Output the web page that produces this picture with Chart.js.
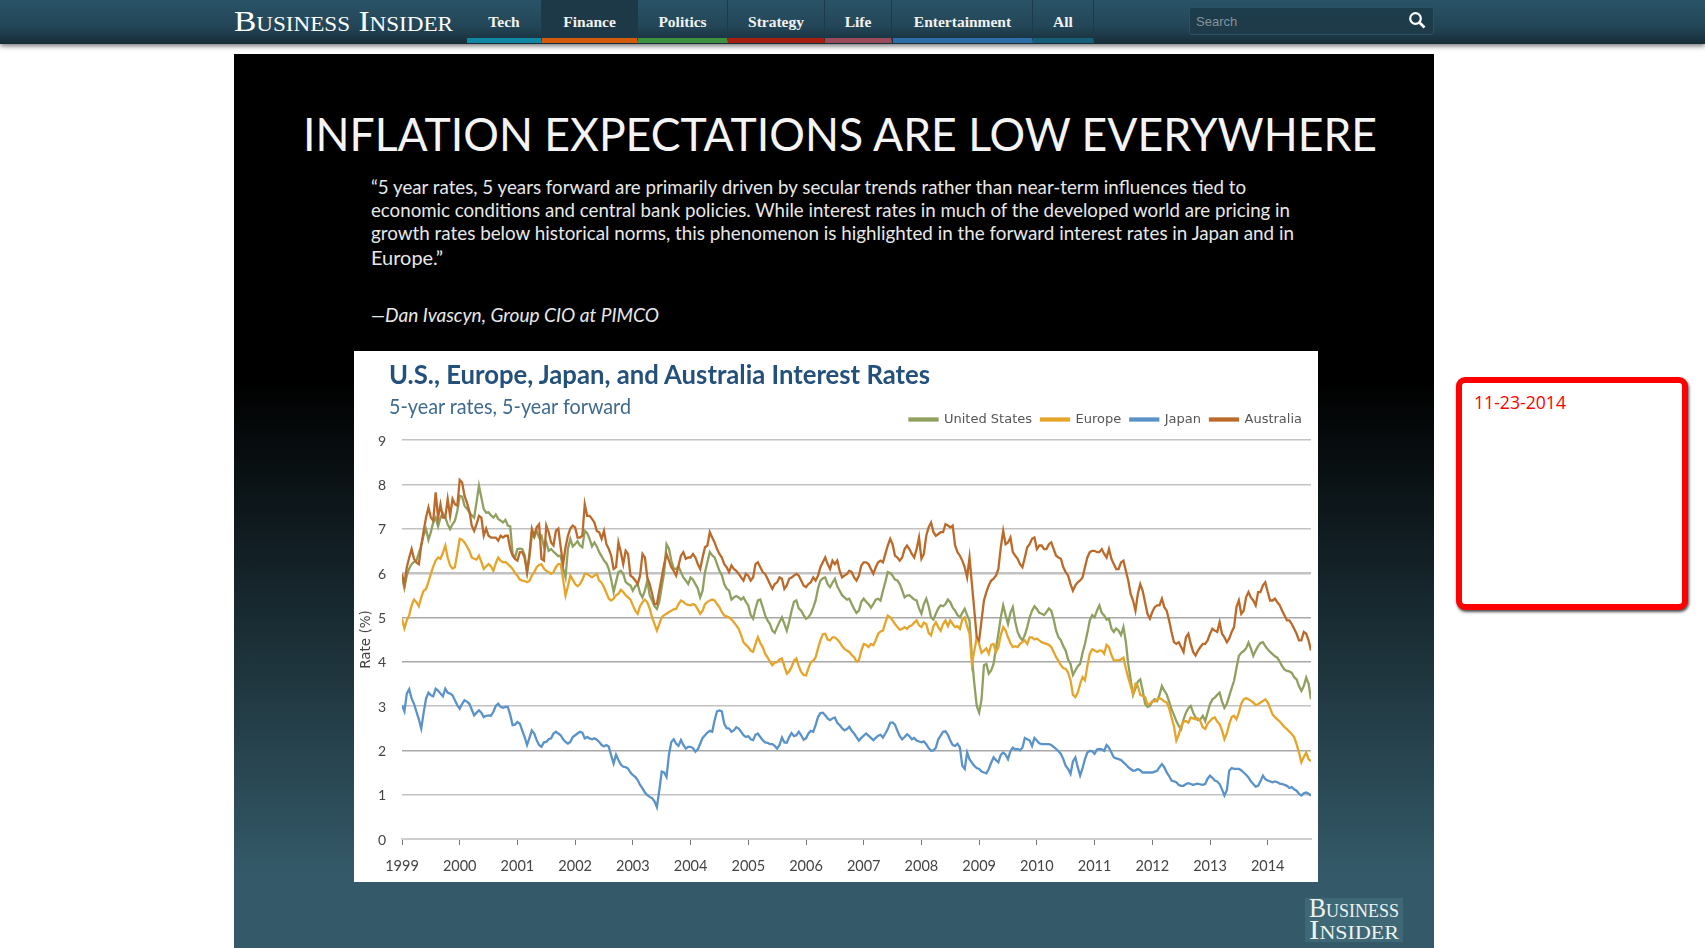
<!DOCTYPE html>
<html lang="en">
<head>
<meta charset="UTF-8">
<title>Inflation expectations are low everywhere</title>
<script src="https://cdn.jsdelivr.net/npm/chart.js"></script>
<style>
    html, body { margin: 0; padding: 0; background: #fff; }
    body { width: 1705px; height: 948px; overflow: hidden; position: relative; font-family: Lato, sans-serif; }
    .abs { position: absolute; white-space: nowrap; transform-origin: left top; }
    #nav { position: absolute; left: 0; top: 0; width: 1705px; height: 44px; background: linear-gradient(#2a5367, #234657 60%, #172d38); box-shadow: 0 2px 5px rgba(0,0,0,.55); }
    .tab { position: absolute; top: 0; height: 38px; line-height: 43px; border-bottom: 5px solid; text-align: center; color: #f2f2f2; font: bold 15.5px/43px "Liberation Serif", serif; border-right: 1px solid #1c3a49; box-sizing: content-box; }
    #search { position: absolute; left: 1189px; top: 7px; width: 245px; height: 28px; background: linear-gradient(#1c3d4c, #1f3a48); border-radius: 3px; border: 1px solid #2a5266; box-sizing: border-box; color: #84949b; font: 13px/28px "Liberation Sans", sans-serif; padding-left: 6px; }
    #slide { position: absolute; left: 234px; top: 54px; width: 1200px; height: 894px; background: linear-gradient(#000 0, #000 36.5%, #345a69 92%); }
    .line { color: #e8e8e8; font-size: 19px; }
    #card { position: absolute; left: 354px; top: 351px; width: 964px; height: 531px; background: #fff; }
    #chart { position: absolute; left: 354px; top: 351px; filter: blur(0.35px); }
    #redbox { position: absolute; left: 1456px; top: 377px; width: 232px; height: 233px; box-sizing: border-box; border: 6px solid #f00; border-radius: 9px; box-shadow: 1px 2px 3px rgba(0,0,0,.7); background: #fff; }
    #bilogo { position: absolute; left: 1305px; top: 898px; width: 98px; height: 44px; background: #3f6876; }
</style>
</head>
<body>
<div id="nav">
    <div class="abs" data-w="219" style="left:234px;top:5px;color:#fff;font:29px 'Liberation Serif',serif;font-variant:small-caps;">Business Insider</div>
    <div class="tab" style="left:467px;width:74px;border-bottom-color:#0f87a5;">Tech</div>
    <div class="tab" style="left:542px;width:95px;border-bottom-color:#d25a0a;background:#1d3846;">Finance</div>
    <div class="tab" style="left:638px;width:89px;border-bottom-color:#3d9140;">Politics</div>
    <div class="tab" style="left:728px;width:96px;border-bottom-color:#a51e10;">Strategy</div>
    <div class="tab" style="left:825px;width:66px;border-bottom-color:#9a4a5a;">Life</div>
    <div class="tab" style="left:893px;width:139px;border-bottom-color:#2d6ea8;">Entertainment</div>
    <div class="tab" style="left:1033px;width:60px;border-bottom-color:#155f78;">All</div>
    <div id="search">Search</div>
    <svg class="abs" style="left:1408px;top:11px" width="18" height="18" viewBox="0 0 18 18"><circle cx="7.5" cy="7.5" r="5.3" fill="none" stroke="#fff" stroke-width="2.2"/><line x1="11.5" y1="11.5" x2="16.5" y2="16.5" stroke="#fff" stroke-width="2.6"/></svg>
</div>

<div id="slide"></div>
<div class="abs" data-w="1074" style="left:303px;top:106px;color:#f4f4f4;font-size:46px;font-weight:400;">INFLATION EXPECTATIONS ARE LOW EVERYWHERE</div>
<div class="abs line" data-w="875" style="left:371px;top:175px;">“5 year rates, 5 years forward are primarily driven by secular trends rather than near-term influences tied to</div>
<div class="abs line" data-w="919" style="left:371px;top:198px;">economic conditions and central bank policies. While interest rates in much of the developed world are pricing in</div>
<div class="abs line" data-w="923" style="left:371px;top:221px;">growth rates below historical norms, this phenomenon is highlighted in the forward interest rates in Japan and in</div>
<div class="abs line" data-w="72" style="left:371px;top:246px;">Europe.”</div>
<div class="abs line" data-w="288" style="left:371px;top:303px;font-style:italic;">—Dan Ivascyn, Group CIO at PIMCO</div>

<div id="card"></div>
<canvas id="chart" width="964" height="531"></canvas>
<div class="abs" data-w="541" style="left:389px;top:357px;color:#24507c;font-size:27px;font-weight:bold;">U.S., Europe, Japan, and Australia Interest Rates</div>
<div class="abs" data-w="242" style="left:389px;top:393px;color:#3f6a8e;font-size:21px;">5-year rates, 5-year forward</div>

<div id="bilogo"></div>
<div class="abs" data-w="90" style="left:1309px;top:893px;color:#eef3f1;font:27px 'Liberation Serif',serif;font-variant:small-caps;">Business</div>
<div class="abs" data-w="90" style="left:1309px;top:915px;color:#eef3f1;font:27px 'Liberation Serif',serif;font-variant:small-caps;">Insider</div>

<div id="redbox"></div>
<div class="abs" data-w="92" style="left:1474px;top:390px;color:#f00;font:18px 'Open Sans',sans-serif;">11-23-2014</div>

<script>
    const years = [1999, 2000, 2001, 2002, 2003, 2004, 2005, 2006, 2007, 2008, 2009, 2010, 2011, 2012, 2013, 2014];
    const seriesNames = ['United States', 'Europe', 'Japan', 'Australia'];

    // reads off the picture: start of each month, Jan 1999 to Oct 2014
    const unitedStates = [
        5.90,5.95,6.20,6.28,6.62,6.99,6.92,7.25,7.25,7.25,
        6.99,7.18,7.74,7.52,7.37,7.25,7.97,7.44,7.37,7.25,
        7.22,7.14,7.07,6.43,6.54,6.54,6.02,6.88,6.95,6.84,
        6.69,6.54,6.43,6.39,5.90,6.77,6.65,6.62,6.95,6.77,
        6.69,6.47,6.28,6.09,5.57,6.02,5.98,5.75,5.60,5.75,
        5.45,5.83,5.38,5.19,5.68,6.65,6.28,6.09,6.02,5.83,
        5.90,5.75,5.45,6.02,6.47,6.35,6.05,5.75,5.60,5.45,
        5.45,5.45,5.27,4.97,5.38,5.23,4.93,4.70,4.78,5.00,
        4.70,5.15,5.38,5.15,4.97,5.08,5.38,5.83,5.90,5.68,
        5.87,5.60,5.45,5.42,5.19,5.15,5.42,5.30,5.30,5.42,
        5.60,6.02,5.94,5.83,5.60,5.49,5.45,5.38,5.08,5.42,
        5.00,5.08,5.27,5.30,5.34,5.15,5.00,5.19,4.93,3.50,
        2.85,3.92,3.73,3.95,4.63,5.27,4.85,5.23,4.67,4.48,
        4.78,5.15,5.19,5.08,5.12,5.15,4.70,4.48,4.25,3.95,
        3.80,3.95,4.40,4.93,5.00,5.27,5.04,4.97,4.67,4.70,
        4.78,3.95,3.25,3.55,3.35,2.98,3.10,3.11,3.45,3.26,
        2.93,2.66,2.48,2.85,3.00,2.74,2.70,2.66,3.04,3.19,
        3.30,2.96,3.23,3.57,4.13,4.24,4.43,4.13,4.35,4.44,
        4.28,4.17,4.09,3.90,3.79,3.75,3.60,3.34,3.64,3.15
    ];
    const europe = [
        4.97,4.93,5.27,5.34,5.45,5.64,5.98,6.28,6.32,6.62,
        6.17,6.13,6.77,6.69,6.50,6.32,6.39,6.09,6.20,6.05,
        6.35,6.24,6.20,6.09,5.94,5.83,5.79,5.94,6.13,6.20,
        6.05,5.98,6.13,6.20,5.49,5.94,5.75,5.75,5.98,5.94,
        5.94,5.83,5.68,5.42,5.42,5.53,5.57,5.45,5.27,5.08,
        5.34,5.34,5.00,4.70,5.00,5.08,5.15,5.19,5.38,5.30,
        5.27,5.27,5.08,5.30,5.38,5.38,5.23,5.04,5.00,4.89,
        4.74,4.44,4.33,4.22,4.55,4.33,4.10,3.92,3.99,4.07,
        3.73,3.88,4.07,3.77,3.69,3.99,4.10,4.48,4.63,4.48,
        4.55,4.44,4.29,4.22,4.10,4.03,4.40,4.33,4.37,4.63,
        4.70,5.04,4.93,4.78,4.74,4.74,4.82,4.93,4.78,4.85,
        4.59,4.89,4.70,4.93,4.93,4.78,4.74,5.00,4.63,4.25,
        4.40,4.25,4.18,4.40,4.33,4.78,4.55,4.33,4.33,4.44,
        4.40,4.55,4.52,4.44,4.40,4.33,4.10,3.92,3.84,3.58,
        3.20,3.50,3.58,4.18,4.25,4.25,4.18,4.33,4.03,4.03,
        4.09,3.64,3.27,3.45,3.23,3.04,3.11,3.15,3.15,3.08,
        2.74,2.22,2.55,2.66,2.74,2.70,2.66,2.48,2.66,2.74,
        2.59,2.25,2.59,2.78,2.85,3.15,3.15,3.08,3.04,3.11,
        3.08,2.81,2.70,2.59,2.48,2.37,2.14,1.73,1.95,1.76
    ];
    const japan = [
        3.02,3.28,3.17,2.87,2.49,3.17,3.24,3.39,3.28,3.39,
        3.28,3.13,2.94,3.13,3.05,2.79,2.90,2.75,2.79,2.87,
        3.05,2.96,2.98,2.57,2.64,2.45,2.12,2.45,2.23,2.08,
        2.19,2.27,2.42,2.34,2.19,2.19,2.34,2.42,2.27,2.27,
        2.27,2.19,2.09,2.08,1.70,1.78,1.63,1.59,1.44,1.33,
        1.14,0.99,0.92,0.72,1.52,1.40,2.19,2.15,2.23,2.04,
        2.08,1.97,2.15,2.34,2.44,2.68,2.90,2.60,2.49,2.45,
        2.49,2.34,2.32,2.23,2.38,2.23,2.17,2.14,2.04,2.29,
        2.17,2.39,2.34,2.34,2.27,2.44,2.57,2.84,2.79,2.68,
        2.74,2.57,2.45,2.53,2.38,2.22,2.33,2.33,2.23,2.33,
        2.29,2.48,2.63,2.44,2.25,2.36,2.25,2.22,2.18,2.14,
        1.99,2.06,2.33,2.43,2.22,2.10,2.06,1.58,1.80,1.65,
        1.58,1.50,1.58,1.84,1.73,1.95,1.80,2.06,2.03,2.06,
        2.25,2.10,2.22,2.14,2.14,2.12,2.03,1.92,1.65,1.47,
        1.84,1.43,1.80,1.99,1.92,2.03,1.99,2.06,1.84,1.80,
        1.73,1.62,1.54,1.58,1.50,1.50,1.50,1.54,1.69,1.50,
        1.32,1.28,1.20,1.24,1.24,1.24,1.23,1.24,1.43,1.32,
        1.24,0.98,1.54,1.58,1.58,1.50,1.39,1.24,1.20,1.43,
        1.32,1.28,1.28,1.24,1.20,1.17,1.09,0.98,1.05,0.98
    ];
    const australia = [
        5.98,6.13,6.54,6.24,6.62,7.25,7.25,7.82,7.55,7.25,
        7.29,7.55,8.10,7.74,7.40,6.95,7.29,6.84,6.84,6.80,
        6.73,6.80,6.84,6.39,6.28,6.47,6.02,7.00,7.03,6.32,
        7.07,6.69,6.95,6.58,6.58,7.00,7.03,6.80,7.55,7.29,
        7.14,6.92,6.95,6.54,6.09,6.69,6.20,6.43,5.90,5.75,
        6.43,5.90,5.53,5.30,5.90,6.43,6.13,5.94,6.39,6.32,
        6.35,6.35,6.09,6.58,6.92,6.69,6.43,6.20,6.02,6.09,
        5.98,5.83,5.94,5.90,6.24,6.02,5.87,5.64,5.79,5.87,
        5.72,5.90,5.98,5.83,5.68,5.79,5.83,6.13,6.35,6.09,
        6.20,6.05,5.94,6.05,5.90,5.94,6.24,6.20,5.98,6.24,
        6.24,6.62,6.65,6.35,6.35,6.62,6.43,6.54,6.32,6.84,
        7.14,6.84,6.92,7.10,7.03,6.62,6.39,6.13,6.35,5.15,
        4.48,5.38,5.72,5.87,6.09,6.95,6.69,6.47,6.32,6.13,
        6.58,6.77,6.54,6.62,6.54,6.69,6.39,6.32,6.02,5.75,
        5.72,5.83,6.13,6.47,6.50,6.47,6.43,6.54,6.20,6.09,
        6.28,5.83,5.38,5.53,5.60,5.08,5.12,5.27,5.42,5.15,
        4.67,4.40,4.33,4.55,4.40,4.14,4.33,4.40,4.63,4.70,
        4.89,4.55,4.52,4.78,5.38,5.15,5.57,5.38,5.57,5.72,
        5.57,5.38,5.34,5.15,4.93,4.85,4.63,4.48,4.63,4.25
    ];

    // reads between those, half way through each month
    const unitedStatesMid = [
        5.66,6.10,6.25,6.45,6.85,6.75,7.15,7.05,7.35,7.10,
        7.10,7.40,7.72,7.45,7.30,7.60,7.70,7.36,7.30,7.32,
        7.18,7.20,7.05,6.35,6.55,6.40,6.35,6.80,6.80,6.60,
        6.50,6.48,6.38,6.10,6.55,6.60,6.72,6.58,6.90,6.60,
        6.60,6.38,6.22,5.85,5.80,6.05,5.80,5.72,5.70,5.55,
        5.60,5.50,5.25,5.35,6.00,6.55,6.10,6.15,5.90,5.75,
        5.85,5.65,5.60,6.25,6.40,6.20,5.95,5.65,5.40,5.48,
        5.40,5.35,5.05,5.20,5.40,5.05,4.85,4.65,4.90,4.85,
        4.90,5.35,5.20,5.05,5.00,5.22,5.65,5.88,5.75,5.78,
        5.70,5.50,5.40,5.30,5.10,5.35,5.35,5.22,5.40,5.38,
        5.80,6.00,5.85,5.75,5.45,5.50,5.40,5.20,5.30,5.25,
        4.95,5.20,5.25,5.40,5.22,5.05,5.10,5.05,4.10,3.00,
        3.15,3.95,3.80,4.30,5.00,5.05,5.10,4.90,4.55,4.60,
        5.00,5.25,5.10,5.05,5.20,4.95,4.55,4.35,4.05,3.70,
        3.90,4.20,4.65,5.05,5.15,5.10,4.95,4.75,4.75,4.60,
        4.45,3.60,3.40,3.60,3.05,3.00,3.15,3.25,3.35,3.10,
        2.80,2.55,2.70,2.95,2.85,2.68,2.78,2.85,3.15,3.25,
        3.10,3.05,3.40,3.85,4.20,4.30,4.30,4.25,4.42,4.35,
        4.22,4.12,4.00,3.82,3.78,3.65,3.45,3.45,3.50
    ];
    const europeMid = [
        4.75,5.05,5.40,5.25,5.60,5.80,6.15,6.35,6.45,6.35,
        6.10,6.45,6.75,6.60,6.35,6.30,6.25,6.15,6.15,6.22,
        6.28,6.25,6.15,6.00,5.85,5.82,5.82,6.02,6.18,6.10,
        6.02,6.02,6.20,5.85,5.70,5.85,5.70,5.85,5.98,5.90,
        5.98,5.78,5.55,5.38,5.50,5.62,5.50,5.40,5.15,5.25,
        5.40,5.20,4.85,4.85,5.05,5.12,5.18,5.30,5.35,5.28,
        5.30,5.18,5.15,5.35,5.40,5.30,5.12,5.02,4.95,4.82,
        4.60,4.38,4.25,4.40,4.42,4.18,4.00,3.98,4.05,3.90,
        3.78,4.02,3.90,3.70,3.85,4.02,4.30,4.62,4.50,4.55,
        4.50,4.35,4.25,4.15,4.00,4.25,4.38,4.40,4.48,4.68,
        4.88,5.00,4.85,4.72,4.78,4.80,4.88,4.82,4.88,4.65,
        4.80,4.78,4.85,4.80,4.85,4.80,4.95,4.80,3.95,4.55,
        4.20,4.30,4.38,4.22,4.60,4.70,4.42,4.35,4.40,4.48,
        4.55,4.50,4.48,4.42,4.38,4.22,4.02,3.85,3.75,3.25,
        3.30,3.65,3.90,4.28,4.22,4.25,4.38,4.15,4.03,4.05,
        3.85,3.45,3.50,3.25,3.20,3.05,3.10,3.18,3.10,2.95,
        2.55,2.35,2.65,2.62,2.72,2.72,2.52,2.60,2.72,2.65,
        2.45,2.38,2.75,2.70,3.05,3.18,3.12,3.02,3.08,3.15,
        2.95,2.75,2.65,2.52,2.42,2.30,1.95,1.85,1.80
    ];
    const japanMid = [
        2.88,3.38,3.05,2.70,2.85,3.30,3.22,3.35,3.22,3.30,
        3.24,3.02,3.05,3.10,2.92,2.85,2.85,2.78,2.78,3.00,
        2.98,2.98,2.80,2.58,2.60,2.30,2.28,2.38,2.12,2.18,
        2.25,2.38,2.38,2.25,2.15,2.30,2.38,2.40,2.30,2.25,
        2.24,2.12,2.12,1.88,1.90,1.68,1.62,1.50,1.40,1.22,
        1.05,0.95,0.85,1.10,1.50,1.90,2.25,2.10,2.12,2.08,
        2.05,2.02,2.28,2.40,2.42,2.88,2.88,2.50,2.42,2.52,
        2.42,2.30,2.25,2.35,2.30,2.18,2.14,2.10,2.12,2.18,
        2.30,2.32,2.42,2.24,2.38,2.42,2.75,2.85,2.72,2.72,
        2.62,2.50,2.48,2.44,2.30,2.28,2.38,2.28,2.28,2.35,
        2.38,2.62,2.58,2.32,2.30,2.32,2.28,2.20,2.20,2.05,
        2.00,2.25,2.42,2.35,2.12,2.15,1.65,1.95,1.72,1.60,
        1.52,1.48,1.72,1.78,1.90,1.90,1.98,2.02,2.00,2.28,
        2.22,2.28,2.16,2.14,2.14,2.08,1.98,1.80,1.58,1.75,
        1.62,1.60,1.95,1.98,2.02,2.02,2.12,1.95,1.82,1.78,
        1.68,1.58,1.55,1.55,1.50,1.50,1.52,1.62,1.62,1.42,
        1.30,1.22,1.20,1.26,1.22,1.25,1.22,1.36,1.38,1.30,
        1.12,1.10,1.60,1.58,1.55,1.45,1.30,1.18,1.30,1.35,
        1.30,1.30,1.25,1.22,1.15,1.12,1.02,1.03,1.02
    ];
    const australiaMid = [
        5.75,6.35,6.32,6.20,6.95,7.48,7.18,7.25,7.25,7.67,
        7.67,7.52,8.04,7.59,7.07,7.10,7.25,7.00,6.80,6.80,
        6.84,6.84,6.54,6.32,6.47,6.35,6.43,6.84,7.10,6.28,
        6.92,6.62,7.00,6.20,6.84,7.07,6.80,6.84,7.29,7.22,
        6.95,6.77,6.65,6.39,6.13,6.47,6.50,5.94,5.83,5.94,
        6.35,5.75,5.30,5.60,6.20,6.28,6.05,6.17,6.47,6.35,
        6.43,6.20,6.35,6.62,6.80,6.54,6.35,6.13,6.17,6.05,
        5.90,5.98,5.83,6.20,6.13,5.98,5.75,5.75,5.90,5.64,
        5.87,5.94,5.94,5.72,5.75,5.90,5.94,6.24,6.20,6.28,
        6.28,5.90,5.98,6.02,5.83,6.17,6.24,6.09,6.13,6.28,
        6.43,6.77,6.39,6.28,6.54,6.54,6.35,6.80,6.43,7.03,
        6.92,6.88,6.92,7.07,7.07,6.47,6.28,5.90,5.75,4.55,
        4.93,5.57,5.83,5.94,6.58,6.65,6.80,6.39,6.20,6.35,
        6.65,6.80,6.62,6.54,6.65,6.54,6.35,6.13,5.94,5.60,
        5.79,5.90,6.35,6.50,6.47,6.54,6.35,6.32,6.09,6.24,
        6.05,5.53,5.15,5.75,5.34,4.97,5.23,5.27,5.23,4.93,
        4.44,4.44,4.22,4.63,4.22,4.25,4.40,4.48,4.74,4.67,
        4.63,4.44,4.67,5.23,5.08,5.45,5.45,5.27,5.57,5.79,
        5.38,5.42,5.27,5.04,4.93,4.74,4.48,4.67,4.48
    ];

    const seriesValues = [unitedStates, europe, japan, australia];
    const seriesMids = [unitedStatesMid, europeMid, japanMid, australiaMid];
    const seriesColors = ['#8fa060', '#e5a52b', '#5b93c9', '#bb6a2a'];
    const drawOrder = [4, 3, 2, 1];

    // decimal year for each monthly read
    const dates = [];
    years.forEach(y => {
        for (let m = 0; m < 12; m++) {
            if (y + m / 12 <= 2014.75) dates.push(y + m / 12);
        }
    });

    function pairUp(values, mids) {
        const points = [];
        values.forEach((v, i) => {
            points.push({ x: dates[i], y: v });
            if (i < mids.length) points.push({ x: dates[i] + 1 / 24, y: mids[i] });
        });
        return points;
    }

    // legend sits higher above the plot than Chart.js would leave it
    const legendGap = {
        id: 'legendGap',
        beforeInit(chart) {
            const fit = chart.legend.fit;
            chart.legend.fit = function () {
                fit.call(this);
                this.height += 4;
            };
        }
    };

    new Chart(document.getElementById('chart'), {
        type: 'line',
        data: {
            datasets: seriesNames.map((name, i) => ({
                label: name,
                data: pairUp(seriesValues[i], seriesMids[i]),
                borderColor: seriesColors[i],
                backgroundColor: seriesColors[i],
                borderWidth: 2.3,
                pointRadius: 0,
                tension: 0,
                order: drawOrder[i]
            }))
        },
        plugins: [legendGap],
        options: {
            responsive: false,
            animation: false,
            devicePixelRatio: 1,
            layout: { padding: { top: 53, right: 7 } },
            plugins: {
                tooltip: { enabled: false },
                legend: {
                    position: 'top',
                    align: 'end',
                    labels: {
                        boxWidth: 28,
                        boxHeight: 2,
                        padding: 9,
                        color: '#555',
                        font: { family: 'DejaVu Sans', size: 13 },
                        sort: (a, b) => a.datasetIndex - b.datasetIndex
                    }
                }
            },
            scales: {
                x: {
                    type: 'linear',
                    min: 1999,
                    max: 2014.75,
                    afterFit(scale) { scale.height = 43; },
                    border: { color: '#cfcfcf', width: 2 },
                    grid: { drawOnChartArea: false, tickLength: 6, tickColor: '#777' },
                    ticks: {
                        stepSize: 1,
                        includeBounds: false,
                        autoSkip: false,
                        maxRotation: 0,
                        padding: 13,
                        color: '#444',
                        font: { family: 'Lato', size: 14.5 },
                        callback: v => String(v)
                    }
                },
                y: {
                    min: 0,
                    max: 9,
                    afterFit(scale) { scale.width = 48; },
                    border: { display: false },
                    grid: {
                        drawTicks: false,
                        color: c => ([2, 4, 5].includes(c.tick.value) ? '#a8a8a8' : '#c2c2c2'),
                        lineWidth: c => (c.tick.value === 6 ? 2.5 : c.tick.value === 0 ? 0 : 1.5)
                    },
                    ticks: {
                        stepSize: 1,
                        padding: 16,
                        labelOffset: 1,
                        color: '#444',
                        font: { family: 'Lato', size: 14 }
                    },
                    title: {
                        display: true,
                        text: 'Rate (%)',
                        color: '#444',
                        padding: { top: 4, bottom: 0 },
                        font: { family: 'DejaVu Sans', size: 13.5 }
                    }
                }
            }
        }
    });

    // squeeze each text line to the width it has in the picture
    function fitWidths() {
        document.querySelectorAll('[data-w]').forEach(el => {
            el.style.transform = 'scaleX(' + (parseFloat(el.dataset.w) / el.getBoundingClientRect().width) + ')';
        });
    }
    fitWidths();
    if (document.fonts && document.fonts.ready) document.fonts.ready.then(() => {
        document.querySelectorAll('[data-w]').forEach(el => { el.style.transform = 'none'; });
        fitWidths();
    });
</script>
</body>
</html>
